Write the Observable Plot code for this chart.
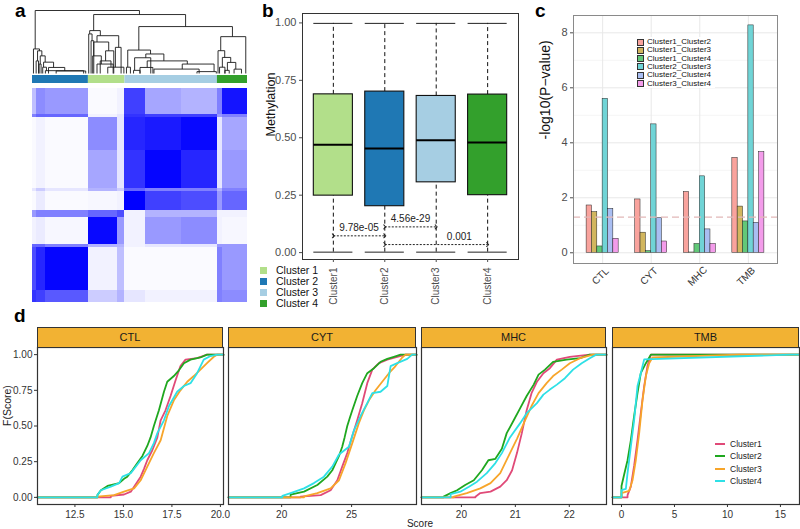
<!DOCTYPE html>
<html><head><meta charset="utf-8">
<script src="https://cdn.jsdelivr.net/npm/d3@7"></script>
<script src="https://cdn.jsdelivr.net/npm/@observablehq/plot@0.6"></script>
<style>
body{margin:0;background:#fff;font-family:Arial,"Liberation Sans",Helvetica,sans-serif;}
#root{position:relative;width:800px;height:529px;overflow:hidden;background:#fff;}
#root svg{overflow:visible;}
</style></head><body><div id="root"></div>
<script>
// ================= DATA =================
// Panel a: consensus clustering
const clusterNames = ["Cluster 1","Cluster 2","Cluster 3","Cluster 4"];
const clusterColors = ["#B2DF8A","#1F78B4","#A6CEE3","#33A02C"];
// colour bar along the sample order (sample index 0..200)
const barCluster = ["Cluster 2","Cluster 1","Cluster 3","Cluster 4"];
const barStart = [0, 52, 86, 172];
const barEnd = [52, 86, 172, 200];
// consensus matrix blocks (column / row breaks in sample index, rows listed top to bottom)
const heatColBreaks = [0, 4, 12, 52, 79, 86, 105, 139, 172, 177, 200];
const heatRowBreaks = [0, 24, 27, 58, 93, 96, 114, 121, 146, 149, 189, 200];
const consensus = [
  [0.25,0.45,0.40,0.02,0.05,0.75,0.35,0.30,0.50,0.92],
  [0.50,0.60,0.60,0.05,0.10,0.80,0.75,0.75,0.40,0.50],
  [0.02,0.05,0.02,0.45,0.10,0.85,0.90,0.97,0.10,0.35],
  [0.02,0.05,0.02,0.35,0.10,0.80,0.98,0.85,0.10,0.40],
  [0.10,0.20,0.10,0.30,0.20,0.60,0.50,0.50,0.30,0.50],
  [0.02,0.08,0.02,0.03,0.05,1.00,0.75,0.70,0.40,0.60],
  [0.40,0.50,0.50,0.60,0.70,0.05,0.30,0.30,0.05,0.05],
  [0.05,0.08,0.03,0.97,0.40,0.05,0.40,0.45,0.05,0.03],
  [0.60,0.60,0.50,0.30,0.30,0.05,0.10,0.10,0.40,0.40],
  [0.70,0.85,0.98,0.05,0.25,0.02,0.02,0.02,0.50,0.40],
  [0.80,0.75,0.65,0.20,0.30,0.10,0.05,0.05,0.50,0.45]
];
// dendrogram merges: left x, right x, merge height, left child height, right child height
const dendL  = [2.5, 56.9, 98.9, 0.9, 4.7, 3.4, 7.2, 6.2, 10.3, 9.5, 12.0, 14.9, 22.0, 53.2, 52.3, 60.0, 54.5, 57.0, 77.1, 56.0, 68.0, 60.0, 63.0, 70.0, 88.6, 87.4, 105.4, 95.0, 94.0, 106.7, 100.0, 139.3, 113.0, 153.0, 175.1, 172.6, 176.6, 181.3, 187.5, 174.0, 179.0];
const dendR  = [99.5, 142.4, 186.0, 6.5, 8.7, 5.6, 11.8, 8.0, 19.6, 13.0, 47.6, 30.0, 49.5, 63.1, 55.4, 80.2, 57.0, 70.9, 82.4, 64.0, 75.6, 75.0, 73.0, 85.0, 109.8, 91.1, 122.2, 110.0, 100.0, 144.0, 112.0, 168.9, 155.0, 171.0, 198.4, 178.8, 184.4, 189.1, 194.4, 179.0, 183.0];
const dendH  = [1.0, 0.936, 0.745, 0.39, 0.36, 0.2, 0.28, 0.15, 0.18, 0.1, 0.045, 0.096, 0.04, 0.681, 0.628, 0.6, 0.52, 0.5, 0.415, 0.28, 0.36, 0.15, 0.2, 0.1, 0.372, 0.1, 0.31, 0.25, 0.05, 0.2, 0.096, 0.15, 0.07, 0.03, 0.585, 0.362, 0.255, 0.176, 0.069, 0.1, 0.05];
const dendHL = [0.39, 0.681, 0.372, 0, 0.2, 0, 0.15, 0, 0.1, 0, 0, 0, 0, 0.628, 0, 0.5, 0, 0.28, 0.1, 0, 0.2, 0, 0, 0, 0.1, 0, 0.25, 0.05, 0, 0.096, 0, 0.07, 0, 0, 0.362, 0, 0.1, 0.05, 0, 0, 0];
const dendHR = [0.936, 0.745, 0.585, 0.36, 0.28, 0, 0.18, 0, 0.096, 0.045, 0, 0.04, 0, 0.6, 0.52, 0.415, 0, 0.36, 0, 0.15, 0, 0, 0.1, 0, 0.31, 0, 0.2, 0, 0, 0.15, 0, 0.03, 0, 0, 0, 0.255, 0.176, 0.069, 0, 0, 0];

// Panel b: methylation box plot
const boxNames = ["Cluster1","Cluster2","Cluster3","Cluster4"];
const boxColors = ["#B2DF8A","#1F78B4","#A6CEE3","#33A02C"];
const boxMin = [0.002, 0.002, 0.002, 0.002];
const boxQ1 = [0.248, 0.202, 0.306, 0.250];
const boxMedian = [0.470, 0.453, 0.489, 0.479];
const boxQ3 = [0.689, 0.701, 0.682, 0.688];
const boxMax = [0.998, 0.998, 0.998, 0.998];
const bracketFrom = [1, 2, 2];
const bracketTo = [2, 3, 4];
const bracketY = [0.073, 0.112, 0.035];
const bracketLabelX = [1.5, 2.5, 3.45];
const bracketText = ["9.78e-05", "4.56e-29", "0.001"];

// Panel c: -log10 p-values
const cMetrics = ["CTL","CYT","MHC","TMB"];
const cComparisons = ["Cluster1_Cluster2","Cluster1_Cluster3","Cluster1_Cluster4","Cluster2_Cluster3","Cluster2_Cluster4","Cluster3_Cluster4"];
const cColors = ["#F9A39D","#D2B65E","#62C878","#70D4D6","#A9BEF2","#F39CEA"];
const cCTL = [1.72, 1.48, 0.23, 5.60, 1.60, 0.51];
const cCYT = [1.94, 0.73, 0.06, 4.67, 1.26, 0.41];
const cMHC = [2.21, 0.01, 0.32, 2.78, 0.85, 0.32];
const cTMB = [3.45, 1.68, 1.14, 8.27, 1.09, 3.66];
const cThreshold = 1.3;

// Panel d: empirical CDFs, [score, F(score)]
const dMetrics = ["CTL","CYT","MHC","TMB"];
const dClusters = ["Cluster1","Cluster2","Cluster3","Cluster4"];
const dColors = ["#E04A78","#1FA71F","#F7A52A","#2EE0E6"];
const dDomains = [[10.57, 20.16], [16.2, 29.64], [19.26, 22.69], [-0.85, 16.8]];
const dTicks = [[12.5, 15, 17.5, 20], [20, 25], [20, 21, 22], [0, 5, 10, 15]];
const ctlCluster1 = [[14.35,0.01],[15.03,0.02],[15.38,0.04],[15.55,0.075],[15.72,0.11],[15.89,0.145],[16.06,0.2],[16.23,0.26],[16.49,0.33],[16.75,0.42],[16.92,0.54],[17.17,0.61],[17.43,0.71],[17.69,0.82],[17.94,0.92],[18.2,0.965],[18.8,0.975],[19.31,1]];
const ctlCluster2 = [[13.66,0.016],[13.84,0.05],[14.18,0.08],[14.78,0.1],[15.03,0.13],[15.2,0.145],[15.46,0.19],[15.72,0.24],[15.98,0.29],[16.23,0.36],[16.4,0.42],[16.57,0.5],[16.71,0.56],[16.83,0.61],[16.95,0.67],[17.09,0.74],[17.26,0.81],[17.6,0.85],[17.86,0.89],[18.12,0.94],[18.46,0.965],[18.97,0.98],[19.31,1]];
const ctlCluster3 = [[13.66,0.005],[14.52,0.016],[15.03,0.04],[15.55,0.063],[15.89,0.12],[16.23,0.215],[16.57,0.31],[16.92,0.4],[17.26,0.57],[17.6,0.68],[17.94,0.75],[18.29,0.81],[18.63,0.85],[18.97,0.895],[19.31,0.94],[19.66,0.985],[19.83,1]];
const ctlCluster4 = [[13.66,0.016],[13.84,0.05],[14.35,0.075],[14.78,0.1],[14.95,0.145],[15.38,0.17],[15.89,0.26],[16.32,0.31],[16.57,0.38],[16.75,0.45],[17.09,0.54],[17.35,0.64],[17.77,0.74],[18.12,0.78],[18.46,0.8],[18.8,0.87],[19.14,0.965],[19.49,0.99],[19.83,1]];
const cytCluster1 = [[21.36,0.005],[22.79,0.016],[23.5,0.05],[23.98,0.12],[24.33,0.215],[24.69,0.31],[25.05,0.43],[25.4,0.54],[25.76,0.66],[26.12,0.8],[26.48,0.895],[26.95,0.94],[27.55,0.965],[28.26,0.985],[28.86,1]];
const cytCluster2 = [[20.64,0.02],[21.6,0.04],[22.55,0.087],[23.26,0.145],[23.62,0.19],[23.86,0.24],[24.1,0.29],[24.33,0.355],[24.5,0.42],[24.69,0.5],[24.88,0.56],[25.05,0.61],[25.4,0.71],[25.76,0.8],[26.12,0.87],[26.6,0.905],[27.07,0.95],[27.55,0.97],[28.02,0.985],[28.5,1]];
const cytCluster3 = [[21.6,0.007],[22.55,0.03],[23.5,0.063],[24.1,0.12],[24.57,0.24],[25.05,0.38],[25.52,0.52],[25.88,0.61],[26.24,0.68],[26.71,0.75],[27.19,0.81],[27.67,0.87],[28.14,0.92],[28.62,0.98],[28.86,1]];
const cytCluster4 = [[20.05,0.01],[20.64,0.03],[21.6,0.063],[22.31,0.1],[23.02,0.145],[23.62,0.215],[24.1,0.3],[24.81,0.355],[25.17,0.47],[25.64,0.57],[26.12,0.66],[26.48,0.73],[27.07,0.74],[27.55,0.78],[27.79,0.92],[28.26,0.94],[28.98,0.97],[29.33,1]];
const mhcCluster1 = [[20.26,0.005],[20.35,0.03],[20.54,0.04],[20.72,0.075],[20.84,0.12],[20.94,0.19],[21.03,0.31],[21.12,0.45],[21.21,0.61],[21.3,0.73],[21.4,0.81],[21.52,0.87],[21.64,0.905],[21.77,0.965],[22.01,0.985],[22.38,1]];
const mhcCluster2 = [[19.67,0.005],[19.8,0.03],[19.92,0.05],[20.07,0.087],[20.23,0.12],[20.38,0.19],[20.5,0.26],[20.63,0.27],[20.75,0.34],[20.84,0.45],[20.97,0.54],[21.09,0.625],[21.21,0.71],[21.34,0.79],[21.43,0.86],[21.55,0.895],[21.7,0.95],[21.95,0.965],[22.2,0.975],[22.38,1]];
const mhcCluster3 = [[19.86,0.005],[20.1,0.03],[20.35,0.063],[20.54,0.1],[20.72,0.17],[20.9,0.31],[21.03,0.41],[21.18,0.54],[21.3,0.64],[21.43,0.73],[21.58,0.8],[21.7,0.85],[21.86,0.895],[22.01,0.94],[22.2,0.975],[22.44,1]];
const mhcCluster4 = [[19.8,0.023],[19.98,0.04],[20.14,0.075],[20.29,0.11],[20.47,0.17],[20.63,0.24],[20.75,0.31],[20.9,0.42],[21.09,0.52],[21.21,0.59],[21.4,0.66],[21.52,0.72],[21.64,0.755],[21.77,0.79],[21.92,0.835],[22.07,0.895],[22.23,0.94],[22.38,0.975],[22.5,1]];
const tmbCluster1 = [[0.57,0.016],[0.88,0.075],[1.19,0.22],[1.51,0.4],[1.82,0.59],[2.14,0.78],[2.45,0.92],[2.77,1]];
const tmbCluster2 = [[0.0,0.08],[0.25,0.16],[0.57,0.26],[0.88,0.4],[1.19,0.57],[1.51,0.73],[1.82,0.87],[2.3,0.94],[2.77,1]];
const tmbCluster3 = [[0.0,0.03],[0.72,0.045],[1.04,0.12],[1.35,0.26],[1.67,0.45],[1.98,0.68],[2.3,0.85],[2.61,0.94],[2.92,0.98],[11.1,1]];
const tmbCluster4 = [[0.0,0.05],[0.41,0.06],[0.57,0.17],[0.88,0.355],[1.19,0.54],[1.51,0.78],[1.82,0.87],[2.14,0.967],[15.97,1]];
const dSeries = [
  [ctlCluster1, ctlCluster2, ctlCluster3, ctlCluster4],
  [cytCluster1, cytCluster2, cytCluster3, cytCluster4],
  [mhcCluster1, mhcCluster2, mhcCluster3, mhcCluster4],
  [tmbCluster1, tmbCluster2, tmbCluster3, tmbCluster4]
];

// ================= RENDER =================
const FONT = "Arial, 'Liberation Sans', Helvetica, sans-serif";
const root = document.getElementById("root");
function put(node, left, top) {
  node.style.position = "absolute";
  node.style.left = left + "px";
  node.style.top = top + "px";
  root.appendChild(node);
  return node;
}
function html(text, left, top, css) {
  const d = document.createElement("div");
  d.textContent = text;
  d.style.cssText = `position:absolute;left:${left}px;top:${top}px;white-space:nowrap;font-family:${FONT};` + (css || "");
  root.appendChild(d);
  return d;
}
const baseStyle = {fontFamily: FONT, fontSize: "10px", background: "transparent", overflow: "visible", color: "#333"};

// ---- Panel a: dendrogram
const dendSegs = [];
dendL.forEach((l, i) => {
  const r = dendR[i], h = dendH[i];
  dendSegs.push({x1: l, y1: h, x2: l, y2: dendHL[i]});
  dendSegs.push({x1: l, y1: h, x2: r, y2: h});
  dendSegs.push({x1: r, y1: h, x2: r, y2: dendHR[i]});
});
put(Plot.plot({
  width: 215, height: 66, marginTop: 2, marginBottom: 1, marginLeft: 0, marginRight: 0,
  x: {domain: [0, 200], axis: null}, y: {domain: [0, 1], axis: null},
  style: baseStyle,
  marks: [Plot.link(dendSegs, {x1: "x1", y1: "y1", x2: "x2", y2: "y2", stroke: "#1a1a1a", strokeWidth: 0.9})]
}), 32, 8);

// ---- Panel a: colour bar
const barRows = barCluster.map((c, i) => ({c, s: barStart[i], e: barEnd[i]}));
put(Plot.plot({
  width: 215, height: 8, margin: 0,
  x: {domain: [0, 200], axis: null}, y: {axis: null},
  color: {domain: clusterNames, range: clusterColors},
  style: baseStyle,
  marks: [Plot.rect(barRows, {x1: "s", x2: "e", fill: "c"})]
}), 32, 75);

// ---- Panel a: consensus heatmap
const heatCells = [];
for (let r = 0; r < heatRowBreaks.length - 1; r++)
  for (let c = 0; c < heatColBreaks.length - 1; c++)
    heatCells.push({x1: heatColBreaks[c], x2: heatColBreaks[c + 1], y1: heatRowBreaks[r], y2: heatRowBreaks[r + 1], v: consensus[r][c]});
put(Plot.plot({
  width: 215, height: 214, margin: 0,
  x: {domain: [0, 200], axis: null}, y: {domain: [0, 200], reverse: true, axis: null},
  color: {type: "linear", domain: [0, 1], range: ["#ffffff", "#0000ff"]},
  style: baseStyle,
  marks: [Plot.rect(heatCells, {x1: "x1", x2: "x2", y1: "y1", y2: "y2", fill: "v", shapeRendering: "crispEdges"})]
}), 32, 88);

// legend a
clusterNames.forEach((n, i) => {
  const y = 270 + i * 11;
  const sq = document.createElement("div");
  sq.style.cssText = `position:absolute;left:260px;top:${y - 3.5}px;width:7px;height:7px;background:${clusterColors[i]};`;
  root.appendChild(sq);
  html(n, 276, y - 6.5, "font-size:10.5px;line-height:13px;color:#111;");
});

// ---- Panel b
const boxRows = boxNames.map((n, i) => ({n, i: i + 1, min: boxMin[i], q1: boxQ1[i], med: boxMedian[i], q3: boxQ3[i], max: boxMax[i]}));
const brackets = bracketFrom.map((f, i) => ({from: f, to: bracketTo[i], y: bracketY[i], lx: bracketLabelX[i], t: bracketText[i]}));
const hw = 0.38;
put(Plot.plot({
  width: 258, height: 287, marginLeft: 40, marginRight: 2, marginTop: 0, marginBottom: 41,
  x: {domain: [0.4, 4.6]}, y: {domain: [-0.03, 1.041]},
  color: {domain: boxNames, range: boxColors},
  style: baseStyle,
  marks: [
    Plot.ruleX(boxRows, {x: "i", y1: "q3", y2: "max", stroke: "#111", strokeDasharray: "4,3", strokeWidth: 1}),
    Plot.ruleX(boxRows, {x: "i", y1: "min", y2: "q1", stroke: "#111", strokeDasharray: "4,3", strokeWidth: 1}),
    Plot.ruleY(boxRows, {y: "max", x1: d => d.i - hw, x2: d => d.i + hw, stroke: "#222", strokeWidth: 1}),
    Plot.ruleY(boxRows, {y: "min", x1: d => d.i - hw, x2: d => d.i + hw, stroke: "#222", strokeWidth: 1}),
    Plot.rect(boxRows, {x1: d => d.i - hw, x2: d => d.i + hw, y1: "q1", y2: "q3", fill: "n", stroke: "#111", strokeWidth: 1.1}),
    Plot.ruleY(boxRows, {y: "med", x1: d => d.i - hw, x2: d => d.i + hw, stroke: "#000", strokeWidth: 2}),
    Plot.link(brackets, {x1: "from", x2: "to", y1: "y", y2: "y", stroke: "#222", strokeWidth: 1, strokeDasharray: "2,1.5", markerStart: "arrow", markerEnd: "arrow"}),
    Plot.text(brackets, {x: "lx", y: "y", text: "t", dy: -8, fontSize: 10, fill: "#222"}),
    Plot.frame({stroke: "#333", strokeWidth: 1}),
    Plot.axisY({ticks: [0, 0.25, 0.5, 0.75, 1], tickFormat: d3.format(".2f"), tickSize: 3, tickPadding: 3, fontSize: 11, label: null, color: "#4d4d4d"}),
    Plot.axisX({ticks: [1, 2, 3, 4], tickFormat: d => boxNames[d - 1], tickRotate: -90, tickSize: 3, tickPadding: 5, fontSize: 10, label: null, color: "#4d4d4d"}),
    Plot.text(["Methylation"], {frameAnchor: "left", dx: -32, rotate: -90, fontSize: 12.5, fill: "#111"})
  ]
}), 262, 13);

// ---- Panel c
const cValues = [cCTL, cCYT, cMHC, cTMB];
const cBars = [];
cMetrics.forEach((m, i) => cValues[i].forEach((v, j) => cBars.push({m, i: i + 1, j, comp: cComparisons[j], v})));
const bw = 0.11;
put(Plot.plot({
  width: 270, height: 300, marginLeft: 43, marginRight: 23, marginTop: 15, marginBottom: 37,
  x: {domain: [0.4, 4.6], axis: null}, y: {domain: [-0.39, 8.63]},
  color: {domain: cComparisons, range: cColors},
  style: baseStyle,
  marks: [
    Plot.gridY([1, 3, 5, 7], {stroke: "#F3F3F3", strokeOpacity: 1, strokeWidth: 0.8}),
    Plot.gridY([0, 2, 4, 6, 8], {stroke: "#E8E8E8", strokeOpacity: 1}),
    Plot.gridX([1, 2, 3, 4], {stroke: "#E8E8E8", strokeOpacity: 1}),
    Plot.rect(cBars, {x1: d => d.i + (d.j - 3) * bw, x2: d => d.i + (d.j - 2) * bw, y1: 0, y2: "v", fill: "comp", stroke: "#222", strokeWidth: 0.5}),
    Plot.ruleY([cThreshold], {stroke: "#E2B8B8", strokeDasharray: "7,4", strokeWidth: 1.3}),
    Plot.frame({stroke: "#8a8a8a", strokeWidth: 1}),
    Plot.axisY({ticks: [0, 2, 4, 6, 8], tickFormat: d3.format("d"), tickSize: 3, tickPadding: 3, fontSize: 11, label: null, color: "#4d4d4d"}),
    Plot.text(cMetrics, {x: (d, i) => i + 1, frameAnchor: "bottom", dy: 15, rotate: -45, fontSize: 10, fill: "#333"}),
    Plot.text(["-log10(P\u2212value)"], {frameAnchor: "left", dx: -28, rotate: -90, fontSize: 14, fill: "#111"})
  ]
}), 530, 0);
// legend c
const lg = document.createElement("div");
lg.style.cssText = "position:absolute;left:635px;top:37px;width:80px;height:51px;background:#fff;";
root.appendChild(lg);
cComparisons.forEach((n, i) => {
  const y = 42 + i * 8.3;
  const sq = document.createElement("div");
  sq.style.cssText = `position:absolute;left:637px;top:${y - 3.5}px;width:7px;height:7px;box-sizing:border-box;border:0.6px solid #333;background:${cColors[i]};`;
  root.appendChild(sq);
  html(n, 647, y - 5, "font-size:8px;line-height:10px;color:#111;");
});

// ---- Panel d
const dLefts = [37, 228, 421, 612];
const dWidths = [186, 188, 185, 187];
dMetrics.forEach((m, k) => {
  const dom = dDomains[k];
  const rows = [];
  dSeries[k].forEach((pts, c) => {
    const name = dClusters[c];
    rows.push({x: dom[0], F: 0, name});
    rows.push({x: pts[0][0], F: 0, name});
    for (const [x, F] of pts) rows.push({x, F, name});
    rows.push({x: dom[1], F: 1, name});
  });
  const showY = k === 0;
  const marks = [
    Plot.line(rows, {x: "x", y: "F", z: "name", stroke: "name", strokeWidth: 1.8}),
    Plot.frame({stroke: "#333", strokeWidth: 1.2}),
    Plot.axisX({ticks: dTicks[k], tickFormat: k === 0 ? d3.format(".1f") : d3.format("d"), tickSize: 3, tickPadding: 3, fontSize: 10, label: null, color: "#333"})
  ];
  if (showY) {
    marks.push(Plot.axisY({ticks: [0, 0.25, 0.5, 0.75, 1], tickFormat: d3.format(".2f"), tickSize: 3, tickPadding: 2, fontSize: 10, label: null, color: "#333"}));
    marks.push(Plot.text(["F(Score)"], {frameAnchor: "left", dx: -30, rotate: -90, fontSize: 10.5, fill: "#222"}));
  }
  put(Plot.plot({
    width: dWidths[k] + (showY ? 37 : 0), height: 175,
    marginLeft: showY ? 37 : 0, marginRight: 0, marginTop: 0, marginBottom: 18,
    x: {domain: dom}, y: {domain: [-0.05, 1.05], axis: showY ? undefined : null},
    color: {domain: dClusters, range: dColors},
    style: baseStyle,
    marks
  }), showY ? 0 : dLefts[k], 347);
  // strip
  const st = document.createElement("div");
  st.textContent = m;
  st.style.cssText = `position:absolute;left:${dLefts[k]}px;top:327px;width:${dWidths[k]}px;height:21px;box-sizing:border-box;border:1.2px solid #333;background:#F2B233;font-family:${FONT};font-size:11px;line-height:19px;text-align:center;color:#1a1a1a;`;
  root.appendChild(st);
});
// legend d
dClusters.forEach((n, i) => {
  const y = 444 + i * 12.3;
  const ln = document.createElement("div");
  ln.style.cssText = `position:absolute;left:715px;top:${y - 1}px;width:10px;height:2px;background:${dColors[i]};`;
  root.appendChild(ln);
  html(n, 730, y - 5, "font-size:8.5px;line-height:10px;color:#222;");
});
html("Score", 420, 524, "font-size:10px;line-height:12px;color:#222;transform:translate(-50%,-50%);");

// panel letters
html("a", 15, 1, "font-size:19px;font-weight:bold;line-height:20px;color:#000;");
html("b", 262, 1, "font-size:19px;font-weight:bold;line-height:20px;color:#000;");
html("c", 535, 1, "font-size:19px;font-weight:bold;line-height:20px;color:#000;");
html("d", 14, 306, "font-size:19px;font-weight:bold;line-height:20px;color:#000;");
</script></body></html>
